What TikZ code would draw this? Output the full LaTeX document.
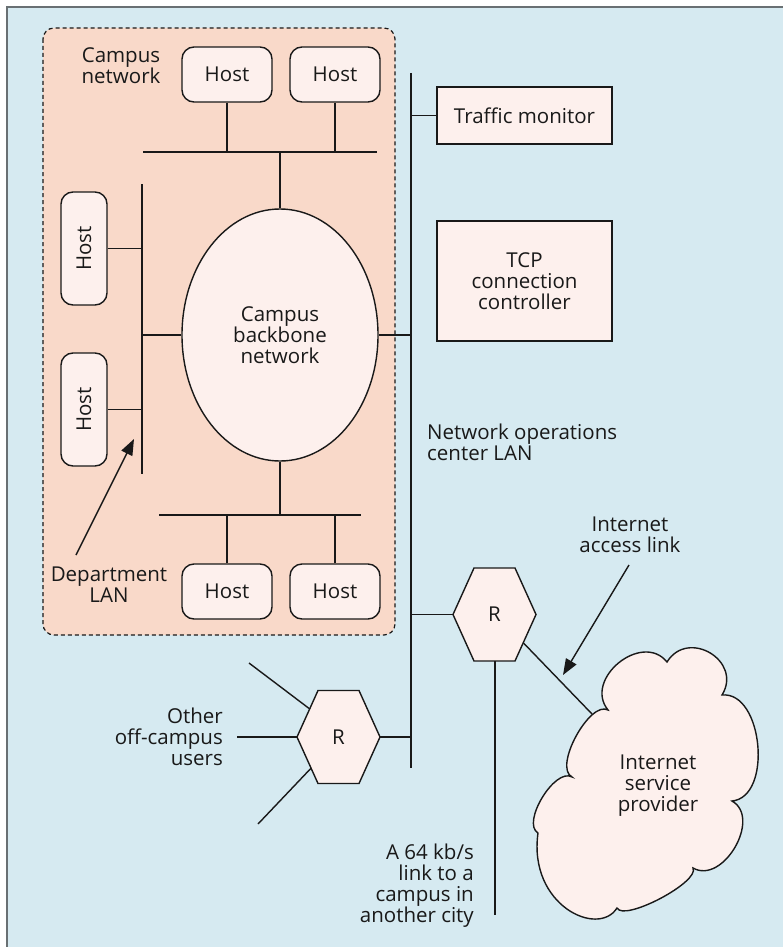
\documentclass[tikz,border=0pt]{standalone}
\usepackage{fontspec}
\setmainfont{Open Sans}
\usetikzlibrary{shapes.geometric,arrows.meta,calc}
\definecolor{bgblue}{RGB}{214,234,241}
\definecolor{framegray}{RGB}{105,112,115}
\definecolor{campusfill}{RGB}{249,217,201}
\definecolor{boxfill}{RGB}{253,240,237}
\definecolor{ink}{RGB}{25,25,25}

% hexagonal router outline centred on a coordinate
\newcommand\hexagonat[1]{%
  \draw[wire,fill=boxfill] ($(#1)+(-41.5,0)$) -- ($(#1)+(-20.5,-46.5)$) -- ($(#1)+(20.5,-46.5)$)
    -- ($(#1)+(41.5,0)$) -- ($(#1)+(20.5,46.5)$) -- ($(#1)+(-20.5,46.5)$) -- cycle;}

\begin{document}
\begin{tikzpicture}[x=1pt,y=-1pt,
  font=\fontsize{20.5}{21}\selectfont, text=ink,
  wire/.style={draw=ink,line width=1.4pt},
  host/.style={draw=ink,line width=1.4pt,fill=boxfill,rounded corners=12pt,
    minimum width=90pt,minimum height=55pt,inner sep=0pt},
  vhost/.style={host,minimum width=113pt,minimum height=46pt,rotate=90},
  device/.style={draw=ink,line width=1.4pt,fill=boxfill,inner sep=0pt,
    minimum width=175pt,align=center},
  router/.style={minimum width=83pt,minimum height=93pt,inner sep=0pt},
  lbl/.style={inner sep=0pt,align=center},
  pointer/.style={wire,-{Triangle[length=16pt,width=12pt]}}]
\useasboundingbox (0,0) rectangle (783,947);

% page background with its top and left rule
\fill[bgblue] (7,7) rectangle (783,947);
\draw[framegray,line width=2pt] (7,947) -- (7,7) -- (783,7);

% campus network area
\draw[ink,line width=1.2pt,dash pattern=on 4pt off 3pt,fill=campusfill,rounded corners=11pt]
  (43,28) rectangle (395,635);
\node[lbl] (campuslbl) at (121,66) {Campus\\network};

% backbone and its four LANs
\node[ellipse,draw=ink,line width=1.4pt,fill=boxfill,minimum width=196pt,minimum height=252pt,
  inner sep=0pt,align=center] (bb) at (280,335) {Campus\\backbone\\network};

\node[host] (th1) at (227,74.5) {Host};
\node[host] (th2) at (335,74.5) {Host};
\coordinate (topL) at (143,152);
\coordinate (topR) at (377,152);
\draw[wire] (topL) -- (topR);
\draw[wire] (th1.south) -- (th1.south |- topL);
\draw[wire] (th2.south) -- (th2.south |- topL);
\draw[wire] (bb.north) -- (bb.north |- topL);

\node[vhost] (lh1) at (84,248.5) {Host};
\node[vhost] (lh2) at (84,409.5) {Host};
\coordinate (deptT) at (142,184);
\coordinate (deptB) at (142,474);
\draw[wire] (deptT) -- (deptB);
\draw[wire] (lh1.south) -- (lh1.south -| deptT);
\draw[wire] (lh2.south) -- (lh2.south -| deptT);
\draw[wire] (bb.west) -- (bb.west -| deptT);

\node[host] (bh1) at (227,591.5) {Host};
\node[host] (bh2) at (335,591.5) {Host};
\coordinate (botL) at (159,515);
\coordinate (botR) at (361,515);
\draw[wire] (botL) -- (botR);
\draw[wire] (bh1.north) -- (bh1.north |- botL);
\draw[wire] (bh2.north) -- (bh2.north |- botL);
\draw[wire] (bb.south) -- (bb.south |- botL);

\node[lbl] (deptlbl) at (109,585) {Department\\LAN};
\coordinate (deptArrowTail) at (76,555);
\coordinate (deptArrowTip) at (134,439);
\draw[pointer] (deptArrowTail) -- (deptArrowTip);

% network operations center LAN
\coordinate (nocT) at (411,73);
\coordinate (nocB) at (411,768);
\draw[wire] (nocT) -- (nocB);
\draw[wire] (bb.east) -- (bb.east -| nocT);

\node[device,minimum height=57pt] (tm) at (524.5,115.5) {Traffic monitor};
\node[device,minimum height=120pt] (tcp) at (524.5,281) {TCP\\connection\\controller};
\draw[wire] (tm.west) -- (tm.west -| nocT);
\draw[wire] ($(tcp.west)+(0,-5)$) -- ($(tcp.west)+(0,-5)$ -| nocT);
\node[lbl,anchor=west,align=left] (noclbl) at (427,442.5) {Network operations\\center LAN};

% routers
\coordinate (r1c) at (494.5,614.5);
\hexagonat{r1c}
\node[router] (R1) at (r1c) {R};
\coordinate (r2c) at (338.5,737);
\hexagonat{r2c}
\node[router] (R2) at (r2c) {R};

\draw[wire] (R1.west) -- (R1.west -| nocT);
\draw[wire] (R2.east) -- (R2.east -| nocT);

% long-distance link
\coordinate (cityEnd) at (495,915);
\draw[wire] (R1.south -| cityEnd) -- (cityEnd);
\node[lbl,anchor=east,align=right] (citylbl) at (474,886) {A 64 kb/s\\link to a\\campus in\\another city};

% off-campus users
\coordinate (r2ul) at (309.8,709);
\coordinate (r2ll) at (311.2,768);
\coordinate (userA) at (249,663);
\coordinate (userB) at (237,737);
\coordinate (userC) at (258,824);
\draw[wire] (userA) -- (r2ul);
\draw[wire] (userB) -- (R2.west);
\draw[wire] (userC) -- (r2ll);
\node[lbl,anchor=east,align=right] (userlbl) at (223,737) {Other\\off-campus\\users};

% internet service provider cloud
\draw[wire,fill=boxfill]
  (608,710) .. controls (583,679) and (642,631) .. (667,662)
  .. controls (688,628) and (743,661) .. (722,695)
  .. controls (763,691) and (773,797) .. (732,801)
  .. controls (762,818) and (723,885) .. (693,868)
  .. controls (700,882) and (624,922) .. (617,908)
  .. controls (598,938) and (528,905) .. (538,833)
  .. controls (521,823) and (555,767) .. (572,777)
  .. controls (553,767) and (590,700) .. (608,710) -- cycle;
\node[lbl] (isp) at (658,786) {Internet\\service\\provider};

\coordinate (r1lr) at (523.5,643);
\coordinate (ispEdge) at (592,714);
\draw[wire] (r1lr) -- (ispEdge);

\node[lbl] (accesslbl) at (630,534.5) {Internet\\access link};
\coordinate (accessTail) at (629,565);
\coordinate (accessTip) at (563,675);
\draw[pointer] (accessTail) -- (accessTip);
\end{tikzpicture}
\end{document}
